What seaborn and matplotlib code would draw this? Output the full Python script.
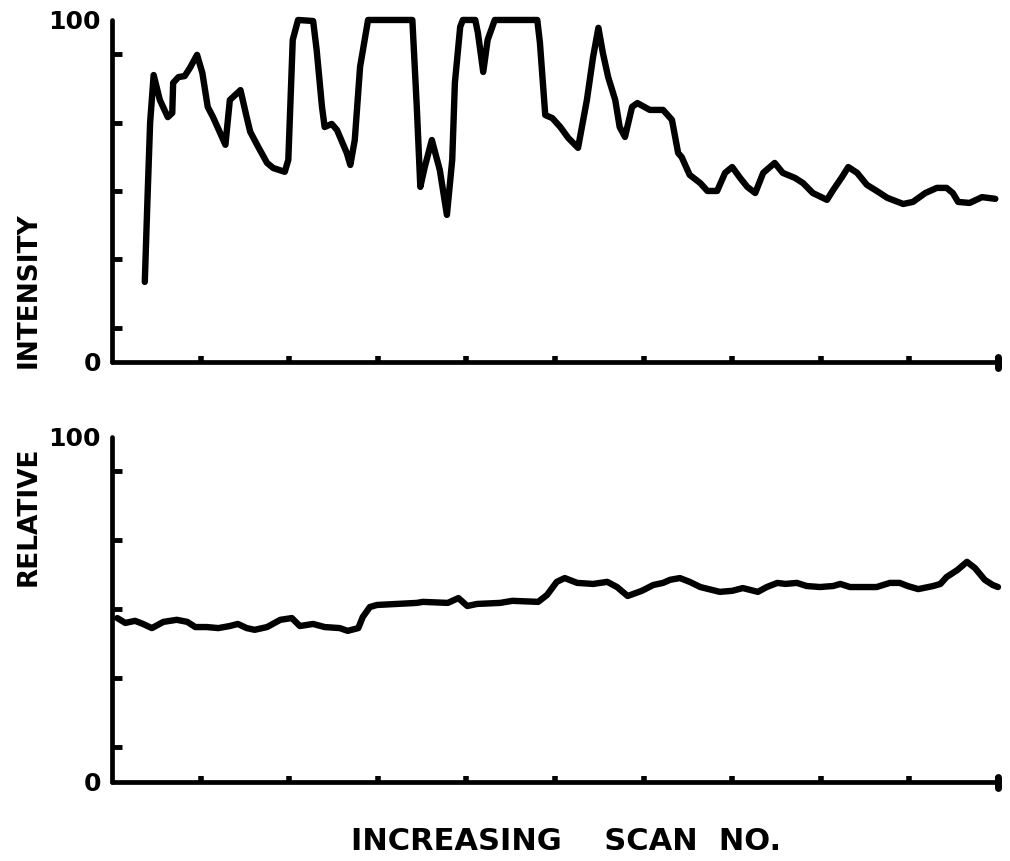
import matplotlib
matplotlib.use("Agg")
import matplotlib.pyplot as plt
import seaborn as sns
import pandas as pd

# top panel trace (scan position 0-100, relative intensity 0-100)
top_x = [3.7, 4.0, 4.3, 4.7, 5.4, 6.3, 6.8, 6.9, 7.5, 8.2, 8.8, 9.6, 10.2, 10.8, 11.4,
         12.2, 12.8, 13.3, 14.5, 15.2, 15.6, 16.5, 17.5, 18.2, 19.5, 19.9, 20.4, 21.0,
         22.7, 23.1, 23.7, 24.0, 24.8, 25.4, 26.5, 26.9, 27.4, 28.0, 28.9, 33.9, 34.4,
         34.8, 35.3, 36.1, 37.0, 37.8, 38.4, 38.7, 39.3, 39.6, 41.0, 41.3, 41.9, 42.4,
         43.2, 48.0, 48.3, 48.9, 49.7, 50.6, 51.5, 52.6, 53.6, 54.3, 54.9, 55.4, 56.0,
         56.8, 57.3, 57.9, 58.7, 59.3, 60.7, 62.2, 63.2, 63.9, 64.3, 65.2, 66.4, 67.2,
         68.3, 69.2, 70.0, 70.9, 71.7, 72.6, 73.5, 74.8, 75.7, 77.1, 78.0, 79.1, 80.7,
         81.4, 82.4, 83.1, 84.1, 85.2, 86.5, 87.5, 89.3, 90.4, 91.8, 93.1, 94.2, 94.9,
         95.5, 96.8, 98.2, 99.7]
top_y = [23.4, 47.4, 69.9, 83.9, 76.6, 71.6, 72.8, 81.6, 83.3, 83.6, 86.0, 89.8, 84.5,
         74.6, 71.6, 67.0, 63.5, 76.6, 79.5, 71.6, 67.3, 62.9, 58.2, 56.7, 55.6, 59.1,
         94.2, 100.0, 99.7, 91.2, 74.6, 68.7, 69.6, 67.8, 61.1, 57.6, 64.9, 86.3, 100.0,
         100.0, 74.6, 51.2, 57.0, 64.9, 56.1, 43.0, 59.1, 81.6, 98.0, 100.0, 100.0, 96.2,
         84.8, 94.2, 100.0, 100.0, 93.3, 72.2, 71.3, 68.7, 65.5, 62.6, 76.6, 89.2, 97.7,
         90.4, 83.3, 76.6, 68.7, 65.8, 74.6, 75.7, 73.7, 73.7, 70.8, 61.1, 59.9, 54.7,
         52.3, 50.0, 50.0, 55.3, 57.0, 53.8, 51.2, 49.4, 55.3, 58.2, 55.3, 53.8, 52.3,
         49.4, 47.4, 50.3, 54.1, 57.0, 55.3, 51.8, 49.7, 48.0, 46.2, 46.8, 49.4, 50.9,
         50.9, 49.4, 46.8, 46.5, 48.2, 47.7]

# bottom panel trace
bot_x = [0.6, 1.5, 2.6, 3.5, 4.5, 5.8, 7.3, 8.5, 9.4, 10.7, 12.0, 13.3, 14.2, 15.2, 16.1,
         17.5, 19.0, 20.3, 21.2, 22.7, 24.0, 25.7, 26.6, 27.8, 28.3, 29.1, 29.9, 34.4,
         35.1, 37.9, 39.1, 40.1, 41.2, 43.8, 45.2, 48.1, 49.1, 50.2, 51.1, 52.5, 54.3,
         55.9, 57.0, 58.2, 59.8, 61.1, 62.2, 63.0, 64.1, 65.2, 66.4, 68.6, 70.0, 71.2,
         72.9, 73.9, 75.1, 76.0, 77.3, 78.4, 79.9, 81.4, 82.2, 83.3, 86.3, 87.8, 88.9,
         89.8, 91.0, 92.7, 93.5, 94.2, 95.4, 96.5, 97.4, 98.5, 99.4, 100.0]
bot_y = [47.5, 46.1, 46.7, 45.8, 44.6, 46.4, 47.0, 46.4, 44.9, 44.9, 44.6, 45.2, 45.8,
         44.6, 44.1, 44.9, 47.0, 47.5, 45.2, 45.8, 44.9, 44.6, 43.8, 44.6, 47.8, 50.7,
         51.3, 51.9, 52.2, 51.9, 53.3, 51.0, 51.6, 51.9, 52.5, 52.2, 54.2, 58.0, 59.1,
         57.7, 57.4, 58.0, 56.5, 53.9, 55.4, 57.1, 57.7, 58.6, 59.1, 58.0, 56.5, 55.1,
         55.4, 56.2, 55.1, 56.5, 57.7, 57.4, 57.7, 56.8, 56.5, 56.8, 57.4, 56.5, 56.5,
         57.7, 57.7, 56.8, 55.9, 56.8, 57.4, 59.4, 61.4, 63.8, 62.0, 58.6, 57.1, 56.5]

y_tick_labels = ["0", "100"]
y_minor_ticks = [10, 30, 50, 70, 90]
x_ticks = [10, 20, 30, 40, 50, 60, 70, 80, 90]

sns.set_style("white")
plt.rcParams['font.family'] = ['DejaVu Sans']
plt.rcParams['font.weight'] = 'bold'
plt.rcParams['text.color'] = 'black'
plt.rcParams['axes.labelcolor'] = 'black'
plt.rcParams['xtick.color'] = 'black'
plt.rcParams['ytick.color'] = 'black'

fig = plt.figure(figsize=(10.10, 8.61), dpi=100)
ax_top = fig.add_axes([0.1109, 0.5796, 0.8772, 0.3972])
ax_bot = fig.add_axes([0.1109, 0.0918, 0.8772, 0.4007])

panels = [(ax_top, top_x, top_y), (ax_bot, bot_x, bot_y)]
for ax, xs, ys in panels:
    df = pd.DataFrame({"scan": xs, "value": ys})
    sns.lineplot(data=df, x="scan", y="value", ax=ax, color="black",
                 linewidth=4.6, sort=False, estimator=None)
    for ln in ax.lines:
        ln.set_clip_on(False)
        ln.set_solid_capstyle("round")
        ln.set_solid_joinstyle("round")
    ax.set_xlim(0, 100)
    ax.set_ylim(0, 100)
    sns.despine(ax=ax)
    for side in ["left", "bottom"]:
        ax.spines[side].set_linewidth(3.4)
        ax.spines[side].set_color("black")
        ax.spines[side].set_capstyle("round")
    ax.set_xlabel("")
    ax.set_ylabel("")
    # x ticks: small bumps on the axis, plus end mark
    ax.set_xticks(x_ticks + [100])
    ax.set_xticklabels([])
    ax.tick_params(axis="x", which="major", direction="in", length=4, width=4,
                   color="black", bottom=True)
    ax.set_yticks([0, 100])
    ax.set_yticklabels(y_tick_labels, fontsize=18, fontweight="heavy", color="black")
    ax.tick_params(axis="y", which="major", length=0, pad=8, left=True)
    ax.set_yticks(y_minor_ticks, minor=True)
    ax.tick_params(axis="y", which="minor", direction="in", length=7, width=3.5,
                   color="black", left=True)
    ax.set_facecolor("white")
    # thicker end cap at the right end of the x axis
    ax.plot([100, 100], [-1.8, 1.5], color="black", lw=5, clip_on=False,
            solid_capstyle="round")

fig.text(0.028, 1 - 290 / 861, "INTENSITY", rotation=90, ha="center", va="center",
         fontsize=19, fontweight="heavy", color="black")
fig.text(0.028, 1 - 516 / 861, "RELATIVE", rotation=90, ha="center", va="center",
         fontsize=19, fontweight="heavy", color="black")
fig.text(0.5604, 1 - 842 / 861, "INCREASING    SCAN  NO.", ha="center", va="center",
         fontsize=22, fontweight="heavy", color="black")

fig.savefig("out.png", dpi=100, facecolor="white")
